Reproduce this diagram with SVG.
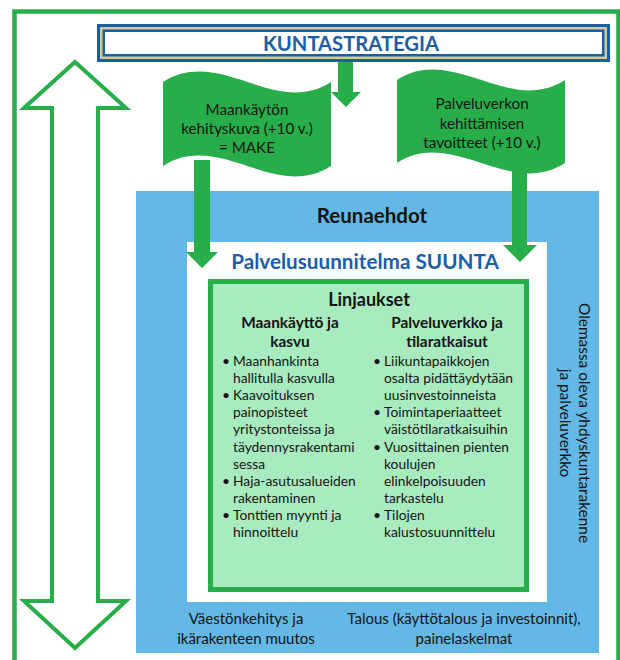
<svg xmlns="http://www.w3.org/2000/svg" width="620" height="660" viewBox="0 0 620 660">
<style>
.t{font-family:Lato,"Liberation Sans",sans-serif;fill:#141414}
.b{font-weight:bold}
.c{text-anchor:middle}
.blue{fill:#1C5DA7}
.g{fill:#27AE4A}
.li{font-size:13.8px}
.ft{font-size:15.2px}
.bt{font-size:15px}
</style>
<rect width="620" height="660" fill="#ffffff"/>
<g id="frame">
<rect x="14.5" y="11.5" width="604" height="680" fill="none" stroke="#27AE4A" stroke-width="4.5"/>
</g>
<g id="timeline-arrow">
<polygon points="75,62 126,108 98,108 98,601 126,601 75,648 24,601 52,601 52,108 24,108" fill="#ffffff" stroke="#27AE4A" stroke-width="4"/>
<text class="t" style="font-size:15.4px" text-anchor="middle" transform="translate(168,426) rotate(-90)">Pitkän aikavälin maankäyttö</text>
</g>
<g id="reunaehdot">
<rect x="136" y="191" width="463" height="462" fill="#63B8E6"/>
<text class="t b c" x="372" y="223" style="font-size:20.5px">Reunaehdot</text>
<text class="t" style="font-size:15.4px" text-anchor="middle" transform="translate(579,423) rotate(90)"><tspan x="0" y="0">Olemassa oleva yhdyskuntarakenne</tspan><tspan x="0" y="19">ja palveluverkko</tspan></text>
<text class="t c bt" x="246" y="624">Väestönkehitys ja</text>
<text class="t c bt" x="246" y="644">ikärakenteen muutos</text>
<text class="t c bt" x="464" y="624">Talous (käyttötalous ja investoinnit),</text>
<text class="t c bt" x="464" y="644">painelaskelmat</text>
</g>
<g id="suunta">
<rect x="187" y="242" width="360" height="360" fill="#ffffff"/>
<text class="t b c blue" x="365" y="269" style="font-size:20.7px">Palvelusuunnitelma SUUNTA</text>
</g>
<g id="linjaukset">
<rect x="210.5" y="281.5" width="316" height="308" fill="#A8EBBE" stroke="#27AE4A" stroke-width="5"/>
<text class="t b c" x="369" y="306" style="font-size:18px">Linjaukset</text>
<text class="t b c" x="290" y="328" style="font-size:15.4px">Maankäyttö ja</text>
<text class="t b c" x="290" y="347" style="font-size:15.4px">kasvu</text>
<text class="t b c" x="447" y="328" style="font-size:15.4px">Palveluverkko ja</text>
<text class="t b c" x="447" y="347" style="font-size:15.4px">tilaratkaisut</text>
<g class="t li">
<text x="222" y="366">•</text><text x="233" y="366">Maanhankinta</text>
<text x="233" y="383.1">hallitulla kasvulla</text>
<text x="222" y="400.2">•</text><text x="233" y="400.2">Kaavoituksen</text>
<text x="233" y="417.3">painopisteet</text>
<text x="233" y="434.4">yritystonteissa ja</text>
<text x="233" y="451.5">täydennysrakentami</text>
<text x="233" y="468.6">sessa</text>
<text x="222" y="485.7">•</text><text x="233" y="485.7">Haja-asutusalueiden</text>
<text x="233" y="502.8">rakentaminen</text>
<text x="222" y="519.9">•</text><text x="233" y="519.9">Tonttien myynti ja</text>
<text x="233" y="537">hinnoittelu</text>
<text x="373" y="366">•</text><text x="384" y="366">Liikuntapaikkojen</text>
<text x="384" y="383.1">osalta pidättäydytään</text>
<text x="384" y="400.2">uusinvestoinneista</text>
<text x="373" y="417.3">•</text><text x="384" y="417.3">Toimintaperiaatteet</text>
<text x="384" y="434.4">väistötilaratkaisuihin</text>
<text x="373" y="451.5">•</text><text x="384" y="451.5">Vuosittainen pienten</text>
<text x="384" y="468.6">koulujen</text>
<text x="384" y="485.7">elinkelpoisuuden</text>
<text x="384" y="502.8">tarkastelu</text>
<text x="373" y="519.9">•</text><text x="384" y="519.9">Tilojen</text>
<text x="384" y="537">kalustosuunnittelu</text>
</g>
</g>
<g id="kuntastrategia">
<rect x="97" y="24" width="513" height="38" fill="#1560A8"/>
<rect x="100" y="27" width="507" height="32" fill="#D8C59D"/>
<rect x="102.5" y="29.5" width="502" height="27" fill="#1560A8"/>
<rect x="105" y="32" width="497" height="22" fill="#ffffff"/>
<text class="t b c blue" x="351" y="50.5" style="font-size:20.2px">KUNTASTRATEGIA</text>
</g>
<g id="make-flag">
<path d="M163,82 C220,46 275,118 331,82 L331,166 C275,202 220,130 163,166 Z" class="g"/>
<text class="t c ft" x="247" y="115">Maankäytön</text>
<text class="t c ft" x="247" y="134">kehityskuva (+10 v.)</text>
<text class="t c ft" x="247" y="153">= MAKE</text>
</g>
<g id="palveluverkko-flag">
<path d="M397,80 C453,44 509,116 565,80 L565,163 C509,199 453,127 397,163 Z" class="g"/>
<text class="t c ft" x="482" y="109">Palveluverkon</text>
<text class="t c ft" x="482" y="128.5">kehittämisen</text>
<text class="t c ft" x="482" y="148">tavoitteet (+10 v.)</text>
</g>
<g id="connectors" class="g">
<polygon points="338,62 353,62 353,92 361,92 346,107 331,92 338,92"/>
<polygon points="194,160 210,160 210,252 218,252 202,268 186,252 194,252"/>
<polygon points="512,155 527,155 527,245 537,245 520,262 503,245 512,245"/>
</g>
</svg>
